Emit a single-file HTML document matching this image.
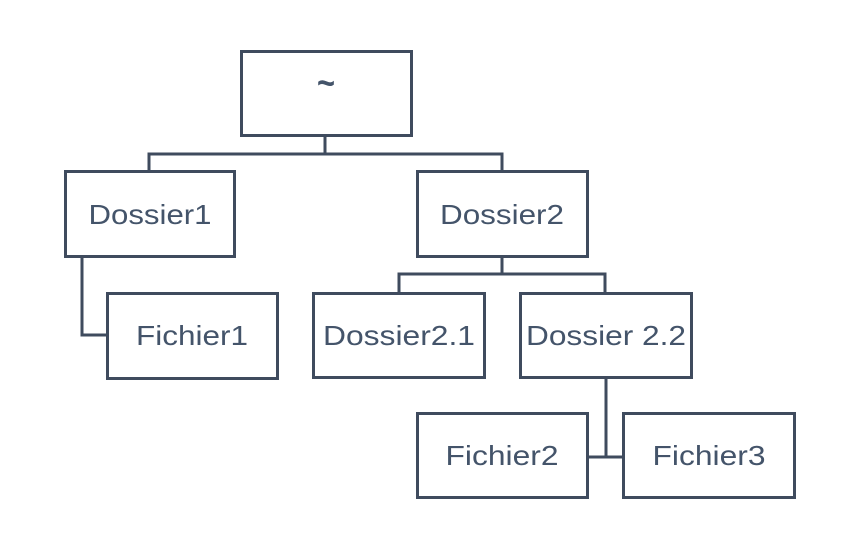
<!DOCTYPE html>
<html><head><meta charset="utf-8"><style>
html,body{margin:0;padding:0;background:#fff;}
svg{display:block;}
text{font-family:"Liberation Sans",sans-serif;font-size:28px;fill:#44546a;text-anchor:middle;}
</style></head><body>
<svg width="858" height="541" viewBox="0 0 858 541" xmlns="http://www.w3.org/2000/svg">
<g fill="none" stroke="#3f4b5e" stroke-width="3">
<rect x="241.5" y="51.5" width="170" height="84"/>
<rect x="65.5" y="171.5" width="169" height="85"/>
<rect x="417.5" y="171.5" width="170" height="85"/>
<rect x="107.5" y="293.5" width="170" height="85"/>
<rect x="313.5" y="293.5" width="171" height="84"/>
<rect x="520.5" y="293.5" width="171" height="84"/>
<rect x="417.5" y="413.5" width="170" height="84"/>
<rect x="623.5" y="413.5" width="171" height="84"/>
<polyline points="325,136 325,154"/>
<polyline points="149,171 149,154 502,154 502,171"/>
<polyline points="82,257 82,335 107,335"/>
<polyline points="502,257 502,274"/>
<polyline points="399,293 399,274 605,274 605,293"/>
<polyline points="606,378 606,457"/>
<polyline points="588,457 623,457"/>
</g>
<text x="326" y="95" style="font-size:36px;font-weight:bold" textLength="18" lengthAdjust="spacingAndGlyphs">~</text>
<text x="150" y="224" textLength="123" lengthAdjust="spacingAndGlyphs">Dossier1</text>
<text x="502" y="224" textLength="124" lengthAdjust="spacingAndGlyphs">Dossier2</text>
<text x="192" y="345" textLength="112" lengthAdjust="spacingAndGlyphs">Fichier1</text>
<text x="399" y="345" textLength="152" lengthAdjust="spacingAndGlyphs">Dossier2.1</text>
<text x="606" y="345" textLength="160" lengthAdjust="spacingAndGlyphs">Dossier 2.2</text>
<text x="502" y="465" textLength="113" lengthAdjust="spacingAndGlyphs">Fichier2</text>
<text x="709" y="465" textLength="113" lengthAdjust="spacingAndGlyphs">Fichier3</text>
</svg>
</body></html>
